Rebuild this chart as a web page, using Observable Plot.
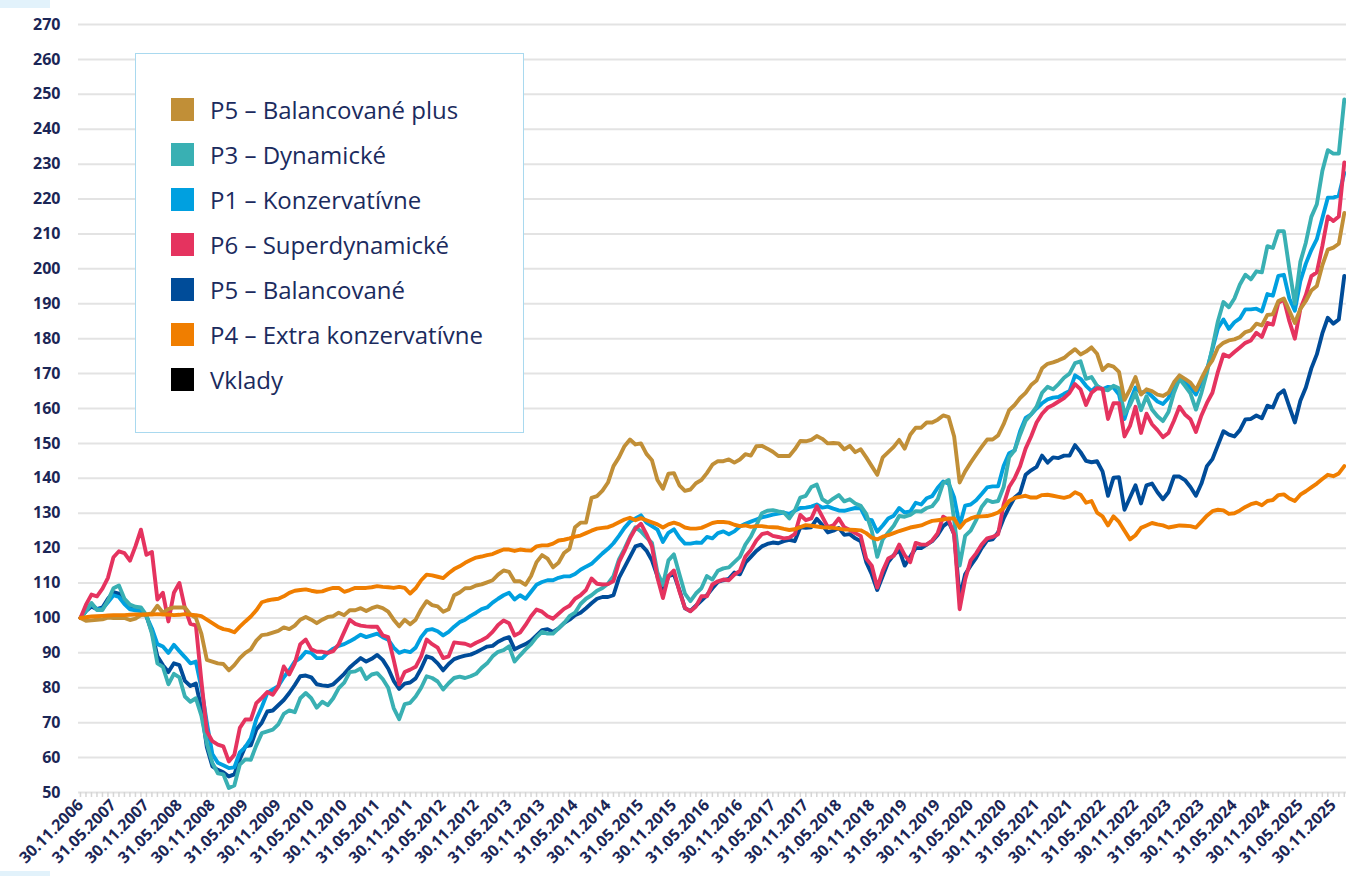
<!DOCTYPE html>
<html>
<head>
<meta charset="utf-8">
<script src="https://cdn.jsdelivr.net/npm/d3@7"></script>
<script src="https://cdn.jsdelivr.net/npm/@observablehq/plot@0.6"></script>
<style>
html, body { margin: 0; padding: 0; background: #ffffff; }
#wrap { position: relative; width: 1346px; height: 876px; overflow: hidden; font-family: "Open Sans", sans-serif; }
#chart svg { display: block; }
#chart svg text { font-family: "Open Sans", sans-serif; font-weight: 700; font-size: 16px; fill: #1b2656; }
#legend { position: absolute; left: 135px; top: 53px; width: 389px; height: 380px; box-sizing: border-box;
  border: 1px solid #a9d9ef; background: #ffffff; }
.row { position: absolute; left: 35px; height: 23px; display: flex; align-items: center; }
.sw { width: 23px; height: 23px; flex: none; }
.lab { margin-left: 16px; font-size: 24px; line-height: 23px; color: #1b2b5e; white-space: nowrap; font-family: "Open Sans", sans-serif; }
.corner { position: absolute; left: 0; width: 50px; background: #e2f2fb; }
</style>
</head>
<body>
<div id="wrap">
  <div id="chart"></div>
  <div id="legend"></div>
  <div class="corner" style="top:0;height:8px"></div>
  <div class="corner" style="top:871px;height:5px"></div>
</div>
<script>
// x tick labels (every 6 months, first = 30.11.2006 = month index 0)
const tickLabels = ["30.11.2006","31.05.2007","30.11.2007","31.05.2008","30.11.2008","31.05.2009","30.11.2009","31.05.2010","30.11.2010","31.05.2011","30.11.2011","31.05.2012","30.11.2012","31.05.2013","30.11.2013","31.05.2014","30.11.2014","31.05.2015","30.11.2015","31.05.2016","30.11.2016","31.05.2017","30.11.2017","31.05.2018","30.11.2018","31.05.2019","30.11.2019","31.05.2020","30.11.2020","31.05.2021","30.11.2021","31.05.2022","30.11.2022","31.05.2023","30.11.2023","31.05.2024","30.11.2024","31.05.2025","30.11.2025"];
const yTicks = [50,60,70,80,90,100,110,120,130,140,150,160,170,180,190,200,210,220,230,240,250,260,270];

// monthly values from 30.11.2006 (index 0)
const p5Plus = [
100,99.2,99.3,99.5,99.6,100.1,100,100,100,99.4,99.8,100.8,
101,101.3,103.5,101.5,102.5,103,103,103,101,100,95.5,88,
87.5,87,86.8,85,86.5,88.5,90,91,93.5,95.1,95.3,95.8,
96.3,97.3,96.8,97.8,99.5,100.3,99.5,98.5,99.5,100.3,100.5,101.5,
100.8,102.2,102.2,102.8,102,102.8,103.3,102.8,101.8,99.5,97.6,99.5,
98.2,99.5,102.5,104.8,103.7,103.3,101.8,102.5,106.5,107.3,108.5,108.6,
109.3,109.6,110.2,110.8,112.4,113.6,113.2,110.5,110.5,109.5,112,116,
118,117,114.5,115.8,118.6,119.8,126,127.3,127.3,134.4,134.9,136.5,
138.8,143.5,146,149.2,151.1,149.7,150,147,145.2,139.5,137,141.3,
141.5,138,136.4,136.8,138.6,139.5,141.5,143.9,144.9,144.9,145.4,144.5,
145.4,146.9,146.5,149.2,149.3,148.5,147.6,146.4,146.4,146.4,148.3,150.7,
150.6,151,152.1,151.3,150,150.1,150,148.3,149.3,147.5,148.3,146,
143.5,141,146,147.5,149,151,148.5,152.5,154.5,154.5,156,156,
156.8,158,157.5,152,138.8,142,144.5,146.8,149,151.1,151.1,152.3,
155.5,159.5,161,163,164.5,166.7,168,171.5,172.8,173.2,173.8,174.5,
175.8,177,175.5,176.3,177.5,175.7,171,172.5,172,170.5,162.5,165.5,
169,164,165.5,165,164,163.6,164.5,167.5,169.5,168.5,167.4,165.3,
168.6,171.6,173.8,177.5,178.8,179.5,179.8,180.5,181.9,182.4,184.3,183.8,
186.8,187,190.8,191.5,188,184.5,188.5,190.8,193.8,195.1,201,205.5,
206.1,207.2,216];

const p3 = [
100,102,104.3,102.3,102.3,105,108.5,109.3,105.5,103.8,103.2,103,
100.8,95.5,87,86,81,84,83,77.5,76,77,72,64,
58.5,55.5,55.2,51.3,52,58,59.5,59.4,63.5,67,67.5,68,
69.5,72.5,73.5,73,77,78.5,77,74.3,76,75,77,79.9,
81.5,84.5,84.7,85.5,82.5,83.8,84.2,82.5,80,74.2,71,75.3,
75.7,77.5,80,83.3,82.8,81.8,79.5,81.3,82.8,83.2,82.8,83.3,
84,85.7,87,89,90.3,90.8,91.9,87.5,89.3,91,92.5,94.5,
96,95.5,95.5,97,98.5,100.5,101.5,104,105.5,106.5,107.8,108.6,
109.8,112,116.8,119.8,123.2,126,124.8,123.1,121.5,113,109.5,116.5,
118.2,112.5,107,104.8,107,108.5,112,111,113.5,114.2,114.5,116,
117.5,121,123.3,126.5,130,130.7,130.9,130.5,130.2,128.5,130.8,134.5,
135,137.5,138.2,134,133,134.2,135.2,133.4,134,132.8,132.1,129.8,
125,117.5,122.5,124.5,126.4,129.2,129,129.5,130.6,130.5,131.5,132,
134,138.6,139.5,128,115,123.5,125,128,131.8,133.8,133.2,133.5,
137.5,146,148,152.5,156.5,158.3,160.5,164.5,166.2,165.5,167,168.8,
170,173,173.5,168.5,169,166.5,165.5,165.2,166.5,165.8,158.5,161,
164.5,159.5,163.5,159.7,157.8,156.4,159,164.5,168.5,166.5,164.3,159.7,
164.5,170.3,177.5,185,190.5,189,191.5,195.5,198.3,197,199.3,199,
206.5,206,210.8,210.8,200,190,202,207.5,214.9,218.5,228,234,
233,233,248.5];

const p1 = [
100,102,104,102.5,102.6,104.5,106.5,106,104,102.5,102.2,102,
100.5,97,92.5,91.8,90,92.3,90.5,88.8,87,87.5,80,70,
61,58.5,57.8,57,57.2,61.5,63,65.5,71,74.5,78.5,79.5,
80.5,83,85,87.5,88.5,90.3,90,88.5,88.5,90,91.2,92,
92.5,93.3,94.2,95.2,94.5,95,95.5,94.5,93.8,91.5,90,90.6,
90.2,91.5,94.5,96.5,96.8,96.2,95,96,97.5,98.8,99.5,100.6,
101.5,102.5,103,104.4,105.5,106.5,107.2,105.3,106.5,105.5,107.5,109.5,
110.3,110.8,110.8,111.5,111.9,111.9,112.6,113.8,114.7,115.5,117,118.5,
119.8,121.4,123.5,125.8,127.6,128.5,129.4,127.3,126.3,125.3,121.8,124.4,
125.4,123,121.3,121.3,121.6,121.5,123.2,122.8,124.3,124.8,124,124.8,
126.2,127,127.6,128.2,128.8,129.2,129.6,129.9,130.2,129.8,130.7,131.5,
131.6,131.9,132.5,131.6,131.9,131.3,130.8,130.7,131.1,131.5,131.4,128.3,
128,124.7,126.5,128.5,129.3,131.5,130.2,130.5,133,132.5,134.3,134.9,
137.3,139.1,138.5,134.5,126.5,132.2,132.5,133.7,135.5,137.4,137.7,137.7,
143.5,147.2,148,153.5,157.3,158.3,160,161.5,162.6,163.1,163.3,164.2,
165,169.5,168.5,166.5,165,166.5,165.5,166.2,166,164,157,162,
166,164.5,165,163.5,162,161.3,163,166.5,168.5,167.5,166,164,
167.5,171.2,177,183,185.5,182.8,184.7,185.8,188.4,188.4,188.6,187.8,
192.8,192.3,198,198.3,191.5,188,196.5,201.5,205.4,208.5,214.5,220.4,
220.4,221,227.5];

const p6 = [
100,103.8,106.7,106.2,108.4,111.5,117.4,119.1,118.6,116.4,120.5,125.3,
118.1,118.9,105.3,107.2,99,107.2,110,102.9,98.3,97.9,82,67.5,
64.7,63.7,63.2,58.9,60.8,68.5,70.9,70.9,75.6,77.1,78.8,78,
80.4,86.1,83.8,87,92.5,93.8,91,90.3,90.3,90,90.5,92.5,
96,99.5,98.3,97.8,97.6,97.5,97.5,95,94.5,88,81,84.5,
85.2,86,89,93.8,92.5,91.5,88.5,89,93,92.8,92.6,92,
92.9,93.6,94.5,96,98,99.3,98.5,95,95.8,98,100.5,102.4,
101.8,100.5,99.8,101.2,102.6,103.5,105.5,106.5,108,111.3,109.8,109.6,
109.7,110.6,116,119.2,122.8,125.6,127,124,120.5,111.5,105.7,112,
113.6,107.6,102.9,101.9,103.3,106.2,106.2,109.6,110.5,111,110.8,112.4,
113.5,117.6,119.5,122.2,124,124.4,123.5,123.2,122.8,123,124,129.5,
128,128.5,132,129,126,126.5,128.5,126,125.2,124.3,123.5,117,
115,108.7,113.5,117,117.8,121,118,116,121.5,121,121,122.2,
124.3,129,128,124,102.5,111,116.5,118.5,121,122.8,123.2,124,
132.5,137.5,140,143.5,148.5,152,156,158.5,160.2,161,162,163,
164.5,167,165.5,161,164.5,165.8,165.7,157,161.5,161.5,152,155,
160.5,153,158.5,155.5,153.8,151.8,153,156.5,160.5,158.3,156.9,153.3,
158,161.6,164.5,170.5,175.5,174.8,176.2,177.5,178.8,179.5,181.7,180.5,
184.5,184,190.3,191.2,185,180,188.5,192.5,197.9,199,206.5,215,
213.7,215,230.5];

const p5 = [
100,102,103.3,102.5,103,105.5,107.4,107,104.5,103,102.5,102.5,
100.5,96,89,86.5,84.5,87,86.5,82,80.5,81.2,74,63,
57.5,56.5,55.8,54.6,55.2,59.5,63.2,63.5,68,70,73.2,73.5,
75,76.5,78.5,80.8,83.3,83.5,83,81,80.7,80.5,81,82.5,
84,85.8,87.2,88.5,87.5,88.3,89.4,88,85.5,82,79.7,81.2,
81.5,82.7,85.5,89,88.5,87,85,86.8,88.2,88.8,89.2,89.5,
90.2,91,91.8,92,93.2,94,94.5,91,91.8,92.5,93.5,95,
96.5,96.8,96,97,98.5,99.5,100.8,101.5,102.8,104.2,105.5,106,
106,106.5,111.5,114.5,117.5,120.5,121,119.3,116.5,112,107,112,
112.5,108,102.8,102,103.5,105,106.5,108.5,110.3,110.8,111.2,113,
112.5,115.8,117.5,119.2,120.5,121.2,121.6,121.4,122,122.4,122,126,
125.8,126,128.4,126.6,124.5,125,125.8,123.8,124,122.8,122,116,
112.5,108,112,116,118,119.5,115,117.5,120,120,121,122,
123.8,126.3,127.5,124,105.8,112.5,115,117.2,120,122.2,122.5,124.5,
128.5,131.7,134.5,135.8,141,142.3,143.3,146.5,144.5,146,145.8,146.5,
146.5,149.5,147.5,145,144.6,144.9,142,135,140.2,140.3,131,134.5,
138,132.8,138,138.5,136,134,136,140.5,140.5,139.5,137.5,135,
138.5,143.5,145.5,149.5,153.5,152.5,152,153.8,156.9,157,158,157.2,
160.8,160.3,164,165.2,160.5,156,162.2,166,171.5,175.5,181.5,186,
184.3,185.5,198];

const p4 = [
100,100.2,100.4,100.5,100.6,100.7,100.8,100.8,100.8,100.9,101,101,
101,101,101.1,101,101,100.8,100.9,101.1,100.9,100.8,100.5,99.5,
98.5,97.5,96.8,96.5,95.9,97.5,99,100.4,102.2,104.5,105,105.3,
105.5,106.2,107.2,107.8,108,108.2,107.8,107.5,107.6,108.2,108.6,108.6,
107.5,108,108.6,108.6,108.6,108.8,109.1,108.9,108.8,108.6,108.9,108.6,
107,108.5,110.8,112.4,112.2,111.8,111.4,112.8,114,114.8,115.8,116.6,
117.3,117.6,118,118.3,119,119.6,119.6,119.2,119.6,119.4,119.3,120.5,
120.8,120.8,121.3,122.2,122.4,122.8,123.3,123.6,124.3,125,125.6,125.8,
126,126.6,127.4,128.2,128.7,128,128.6,128,127.4,126.8,125.9,126.8,
127.3,126.8,125.9,125.6,125.6,125.8,126.5,127.2,127.5,127.5,127.3,126.7,
126.3,126.5,126.1,126.3,126.3,126.1,126,125.9,125.5,125.2,125.4,126,
126.6,126.4,126.2,126,125.9,125.8,125.6,125.3,125.3,125.2,125.1,124.3,
123,122.5,123.3,123.7,124.3,124.9,125.4,125.9,126.2,126.5,127.2,127.8,
128,128.2,128.5,128.5,125.8,127.7,128.5,129,129.1,129.2,129.6,130.2,
131.5,133.5,134.4,134.7,135,134.5,134.5,135.2,135.3,135,134.7,134.4,
134.8,136,135.3,133,133.5,130.2,129.1,126.5,129.1,127.5,125,122.5,
123.7,125.8,126.5,127.2,126.8,126.5,125.9,126.2,126.5,126.4,126.3,125.9,
127.6,129.3,130.6,131,130.8,129.8,130,130.8,131.8,132.6,133,132.3,
133.5,133.8,135.2,135.4,134.2,133.5,135.3,136.3,137.4,138.5,139.8,141,
140.6,141.4,143.5];

const seriesNames = ["P5 – Balancované plus","P3 – Dynamické","P1 – Konzervatívne","P6 – Superdynamické","P5 – Balancované","P4 – Extra konzervatívne","Vklady"];
const seriesColors = ["#c18f37","#39b0b3","#00a0e0","#e5335f","#004c99","#f07e00","#000000"];
const seriesValues = [p5Plus, p3, p1, p6, p5, p4, null];

// drawing order (bottom -> top)
const drawOrder = [4, 2, 1, 3, 0, 5];

const monthIdx = d3.range(p5Plus.length);
const labelPos = tickLabels.map((d, i) => i * 6);

const lineMarks = drawOrder.map(k => Plot.line(seriesValues[k], {
  x: (d, i) => i, y: d => d,
  stroke: seriesColors[k], strokeWidth: 3.9,
  strokeLinejoin: "round", strokeLinecap: "round"
}));

const chart = Plot.plot({
  width: 1346, height: 876,
  marginLeft: 78, marginRight: 0, marginTop: 24, marginBottom: 84,
  x: {domain: [-0.36, 230.4]},
  y: {domain: [50, 270]},
  style: {background: "transparent", overflow: "visible"},
  marks: [
    Plot.ruleY(yTicks, {stroke: "#e3e3e3", strokeWidth: 2}),
    Plot.axisX({ticks: monthIdx, tickSize: 5, tickFormat: () => "", stroke: "#d6d6d6", strokeWidth: 1.5, label: null}),
    Plot.axisX({ticks: labelPos, tickSize: 0, tickPadding: 10, tickRotate: -45, tickFormat: d => tickLabels[Math.round(d / 6)], label: null}),
    Plot.axisY({ticks: yTicks, tickSize: 0, tickPadding: 18, tickFormat: d => String(d), label: null}),
    ...lineMarks
  ]
});
document.getElementById("chart").appendChild(chart);

// legend
const legend = document.getElementById("legend");
seriesNames.forEach((name, i) => {
  const row = document.createElement("div");
  row.className = "row";
  row.style.top = (43.7 + 45.1 * i) + "px";
  const sw = document.createElement("div");
  sw.className = "sw";
  sw.style.background = seriesColors[i];
  const lab = document.createElement("div");
  lab.className = "lab";
  lab.textContent = name;
  row.appendChild(sw);
  row.appendChild(lab);
  legend.appendChild(row);
});
</script>
</body>
</html>
